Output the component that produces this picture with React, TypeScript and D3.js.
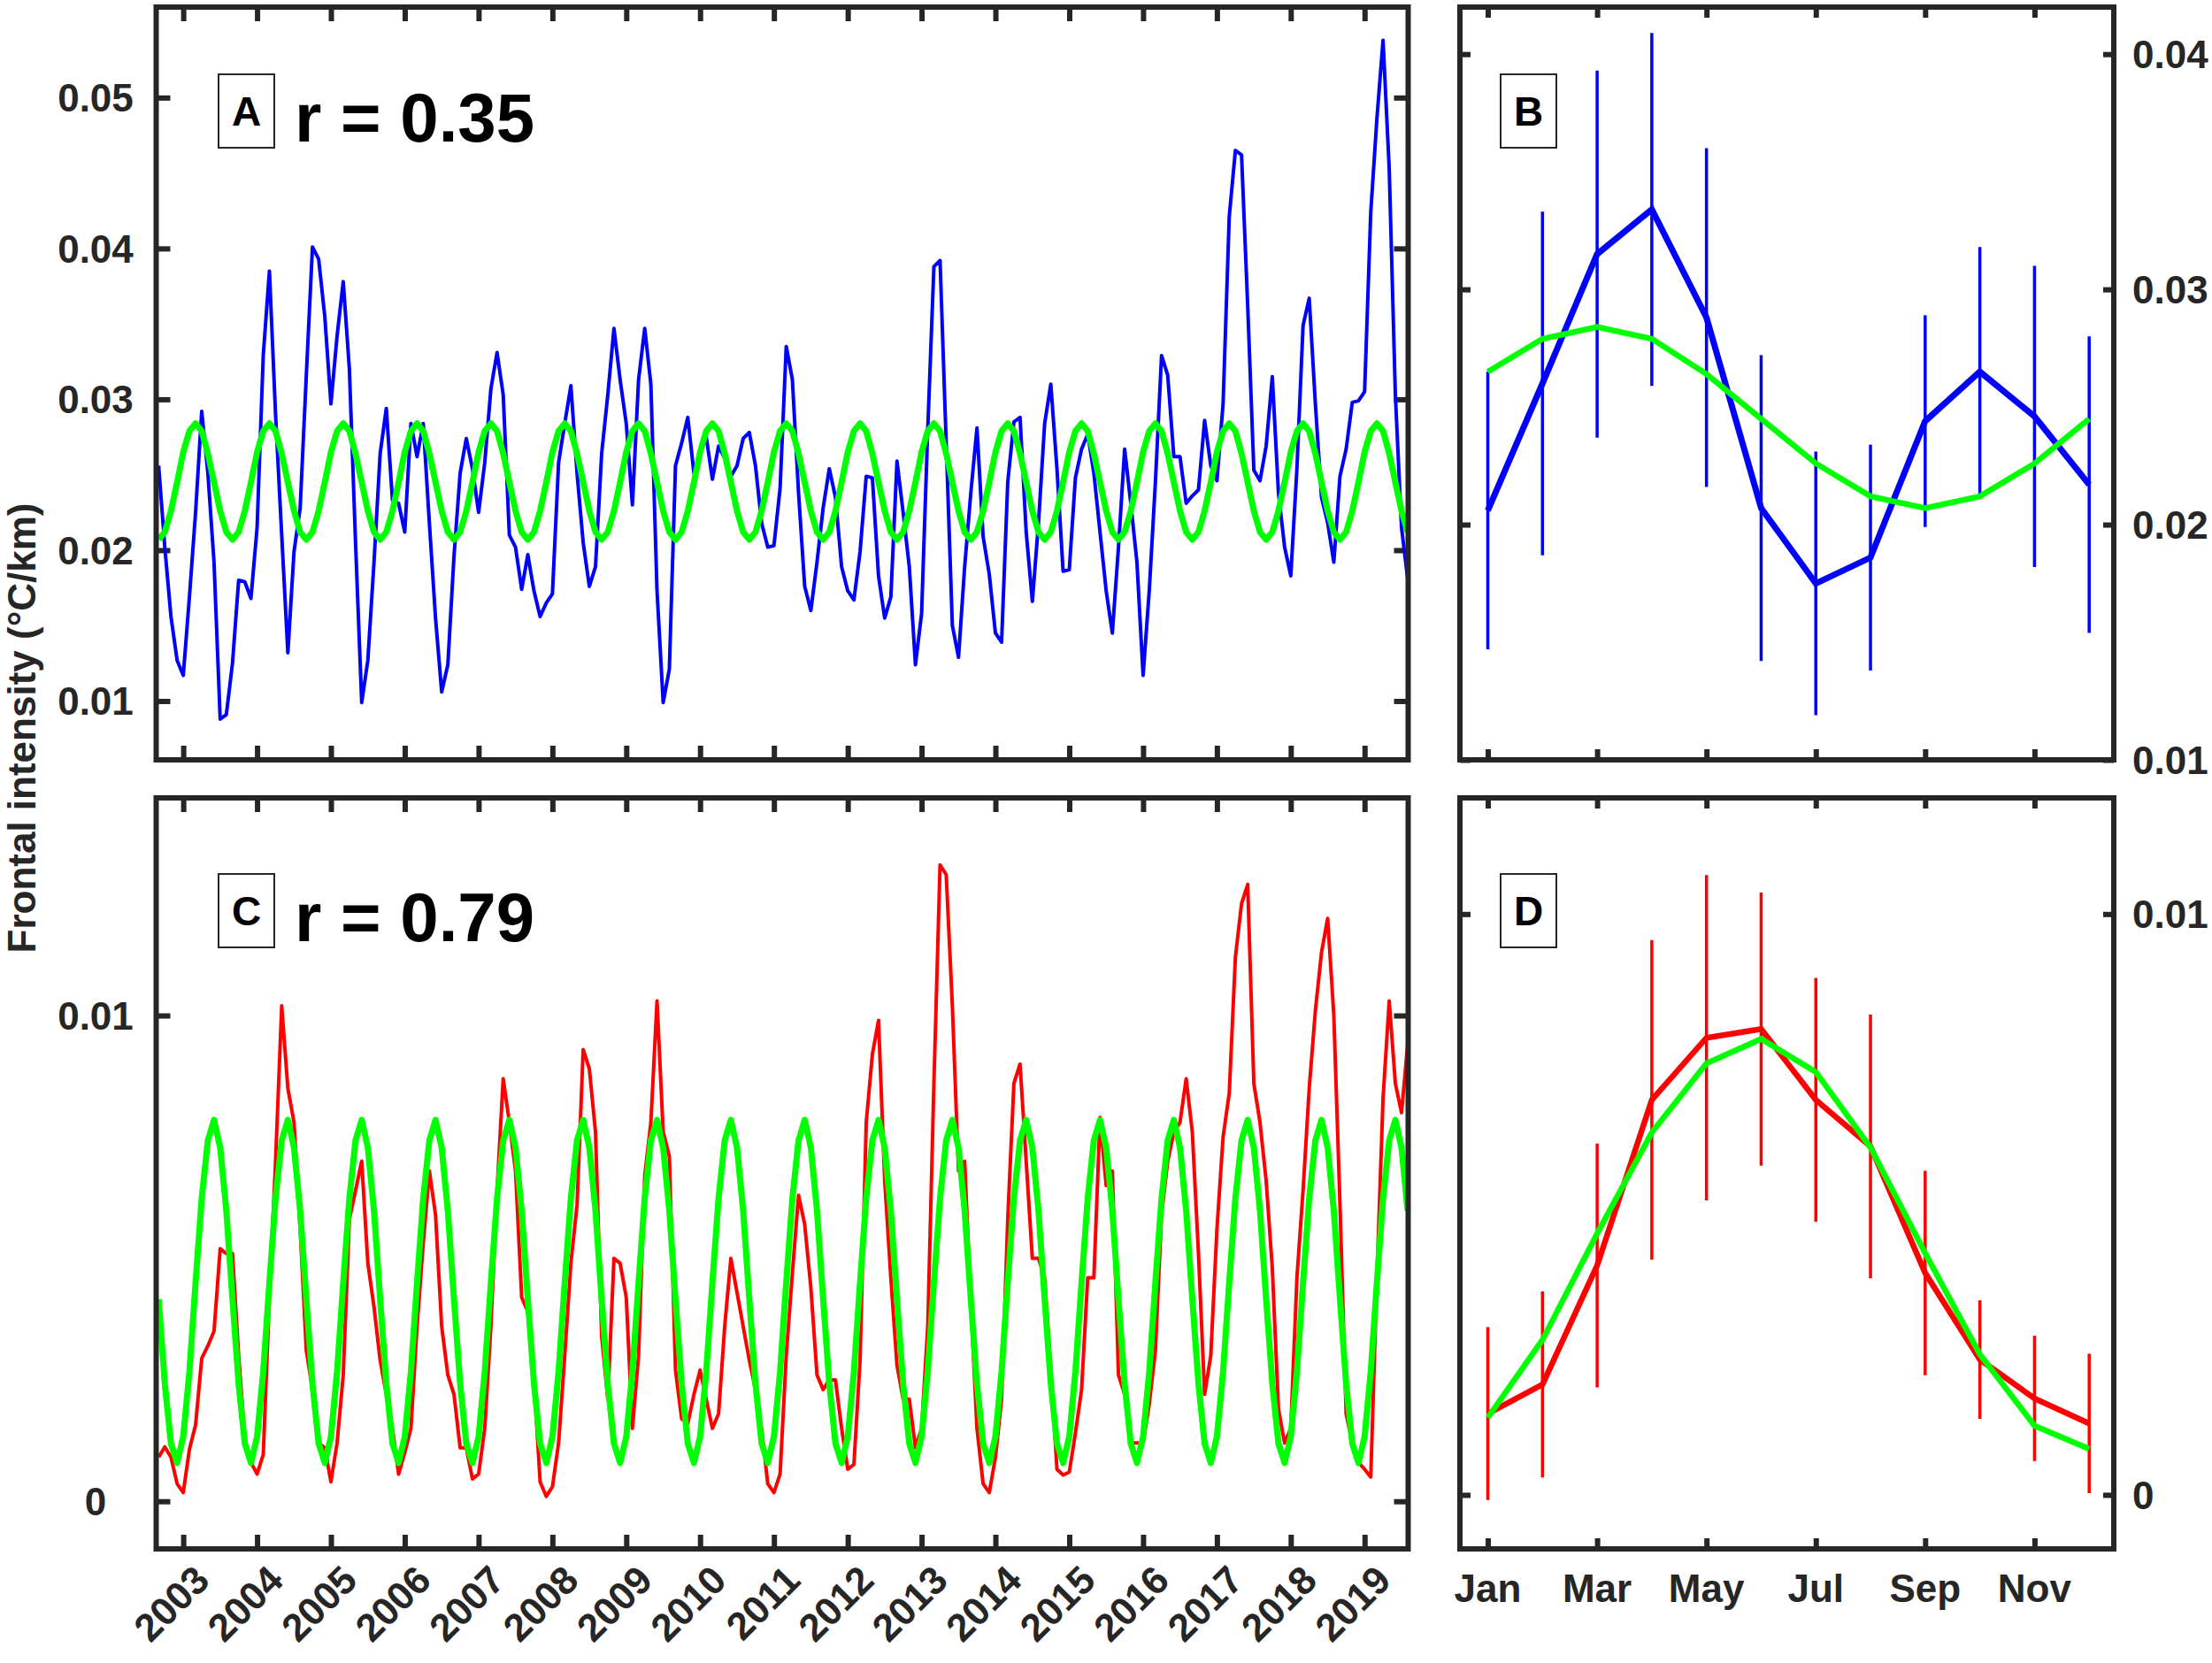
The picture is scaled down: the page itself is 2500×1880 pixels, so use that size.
import React, { useRef, useEffect } from 'react';
import * as d3 from 'd3';

// monthly series start at Sep 2002 and end at Aug 2019
const startYear = 2002;
const startMonth = 9;

const blueSeries = [
    0.0256, 0.0202, 0.0156, 0.0127,
    0.0117, 0.0169, 0.0225, 0.0292, 0.0251, 0.0192, 0.0088, 0.0091, 0.0125, 0.0180, 0.0179, 0.0168,
    0.0215, 0.0329, 0.0385, 0.0290, 0.0210, 0.0132, 0.0199, 0.0228, 0.0316, 0.0401, 0.0393, 0.0355,
    0.0297, 0.0342, 0.0378, 0.0320, 0.0205, 0.0099, 0.0127, 0.0192, 0.0264, 0.0294, 0.0233, 0.0231,
    0.0212, 0.0284, 0.0262, 0.0284, 0.0218, 0.0155, 0.0106, 0.0124, 0.0196, 0.0251, 0.0274, 0.0254,
    0.0225, 0.0258, 0.0307, 0.0331, 0.0303, 0.0210, 0.0202, 0.0174, 0.0197, 0.0173, 0.0156, 0.0165,
    0.0171, 0.0258, 0.0284, 0.0309, 0.0251, 0.0205, 0.0176, 0.0189, 0.0264, 0.0303, 0.0347, 0.0313,
    0.0284, 0.0230, 0.0313, 0.0347, 0.0310, 0.0173, 0.0099, 0.0121, 0.0256, 0.0271, 0.0288, 0.0251,
    0.0264, 0.0275, 0.0247, 0.0269, 0.0261, 0.0249, 0.0256, 0.0274, 0.0278, 0.0256, 0.0218, 0.0202,
    0.0203, 0.0241, 0.0335, 0.0313, 0.0238, 0.0176, 0.0160, 0.0192, 0.0228, 0.0254, 0.0235, 0.0189,
    0.0173, 0.0167, 0.0199, 0.0249, 0.0248, 0.0183, 0.0155, 0.0169, 0.0259, 0.0225, 0.0189, 0.0124,
    0.0158, 0.0280, 0.0388, 0.0392, 0.0271, 0.0150, 0.0129, 0.0189, 0.0238, 0.0281, 0.0209, 0.0184,
    0.0145, 0.0139, 0.0245, 0.0285, 0.0288, 0.0212, 0.0166, 0.0218, 0.0284, 0.0310, 0.0254, 0.0186,
    0.0187, 0.0248, 0.0267, 0.0277, 0.0251, 0.0212, 0.0173, 0.0145, 0.0202, 0.0267, 0.0231, 0.0192,
    0.0117, 0.0173, 0.0245, 0.0329, 0.0316, 0.0262, 0.0262, 0.0231, 0.0236, 0.0240, 0.0286, 0.0256,
    0.0246, 0.0297, 0.0421, 0.0465, 0.0462, 0.0362, 0.0253, 0.0246, 0.0269, 0.0315, 0.0238, 0.0202,
    0.0183, 0.0254, 0.0349, 0.0367, 0.0297, 0.0235, 0.0218, 0.0192, 0.0249, 0.0267, 0.0298, 0.0299,
    0.0305, 0.0424, 0.0486, 0.0538, 0.0453, 0.0303, 0.0215, 0.0181,
];

const redSeries = [
    0.00091, 0.00112, 0.00091, 0.00036,
    0.00018, 0.00107, 0.00157, 0.00294, 0.0032, 0.0035, 0.0052, 0.0051, 0.0051, 0.0030, 0.0013, 0.0008,
    0.00056, 0.00096, 0.0042, 0.0070, 0.0102, 0.0085, 0.0078, 0.0056, 0.0031, 0.0023, 0.0012, 0.0011,
    0.0004, 0.0012, 0.0026, 0.0058, 0.0064, 0.0070, 0.0049, 0.0040, 0.0029, 0.0022, 0.0015, 0.00056,
    0.0010, 0.0015, 0.0036, 0.0053, 0.0068, 0.0059, 0.0036, 0.0026, 0.0022, 0.0011, 0.0011, 0.00046,
    0.00056, 0.0015, 0.0036, 0.0064, 0.0087, 0.0078, 0.0068, 0.0042, 0.0039, 0.0025, 0.0004, 0.0001,
    0.0003, 0.0012, 0.0030, 0.0049, 0.0061, 0.0093, 0.0089, 0.0076, 0.0034, 0.0021, 0.0050, 0.0049,
    0.0042, 0.0015, 0.0030, 0.0067, 0.0078, 0.0103, 0.0076, 0.0071, 0.0027, 0.0017, 0.0016, 0.0022,
    0.0027, 0.0021, 0.0015, 0.0018, 0.0036, 0.0050, 0.0043, 0.0036, 0.0029, 0.0023, 0.0015, 0.00036,
    0.00018, 0.00056, 0.0030, 0.0047, 0.0063, 0.0057, 0.0044, 0.0026, 0.0023, 0.0025, 0.0025, 0.0015,
    0.00066, 0.00076, 0.0029, 0.0078, 0.0092, 0.0099, 0.0066, 0.0046, 0.0028, 0.0021, 0.0021, 0.0011,
    0.0015, 0.0036, 0.0086, 0.0131, 0.0129, 0.0102, 0.0068, 0.0070, 0.0041, 0.0015, 0.00036, 0.00018,
    0.0009, 0.0021, 0.0058, 0.0086, 0.0090, 0.0070, 0.0050, 0.0050, 0.0046, 0.0027, 0.00066, 0.00054,
    0.0006, 0.0014, 0.0023, 0.0046, 0.0046, 0.0079, 0.0065, 0.0068, 0.0026, 0.0022, 0.0012, 0.0012,
    0.0012, 0.0020, 0.0031, 0.0059, 0.0070, 0.0076, 0.0078, 0.0087, 0.0076, 0.0051, 0.0022, 0.0030,
    0.0056, 0.0075, 0.0084, 0.0112, 0.0123, 0.0127, 0.0086, 0.0078, 0.0066, 0.0048, 0.0019, 0.0012,
    0.0015, 0.0046, 0.0064, 0.0085, 0.0101, 0.0113, 0.0120, 0.0100, 0.0061, 0.0018, 0.0012, 0.0008,
    0.00066, 0.0005, 0.0046, 0.0083, 0.0103, 0.0086, 0.0080, 0.0094,
];

// seasonal cycle (green), Jan..Dec
const blueFit = [0.0265, 0.0279, 0.0284, 0.0279, 0.0264, 0.0245, 0.0226, 0.0212, 0.0207, 0.0212, 0.0226, 0.0245];
const redFit = [0.00133, 0.00267, 0.0045, 0.00624, 0.00743, 0.00785, 0.00728, 0.00598, 0.00416, 0.00242, 0.00119, 0.00079];

// monthly climatology with standard deviation
const blueMonthMean = [0.0206, 0.0260, 0.0315, 0.0334, 0.0288, 0.0207, 0.0175, 0.0186, 0.0244, 0.0265, 0.0246, 0.0217];
const blueMonthStd = [0.0059, 0.0073, 0.0078, 0.0075, 0.0072, 0.0065, 0.0056, 0.0048, 0.0045, 0.0053, 0.0064, 0.0063];
const redMonthMean = [0.0014, 0.0019, 0.00395, 0.0068, 0.00787, 0.00802, 0.0068, 0.0060, 0.00382, 0.00233, 0.00166, 0.00123];
const redMonthStd = [0.00149, 0.0016, 0.0021, 0.00275, 0.0028, 0.00235, 0.0021, 0.00227, 0.00176, 0.00102, 0.00108, 0.0012];

const yearTicks = [2003, 2004, 2005, 2006, 2007, 2008, 2009, 2010, 2011, 2012, 2013, 2014, 2015, 2016, 2017, 2018, 2019];
const monthTicks = [1, 3, 5, 7, 9, 11];
const monthLabels = ['Jan', 'Mar', 'May', 'Jul', 'Sep', 'Nov'];
const ticksA = [0.01, 0.02, 0.03, 0.04, 0.05];
const ticksB = [0.01, 0.02, 0.03, 0.04];
const ticksC = [0, 0.01];
const ticksD = [0, 0.01];

const FONT = '"Liberation Sans", Arial, Helvetica, sans-serif';
const AXIS = '#262626';

interface Box { x0: number; x1: number; y0: number; y1: number; }

const App: React.FC = () => {
    const svgRef = useRef<SVGSVGElement | null>(null);

    useEffect(() => {
        if (!svgRef.current) return;
        const svg = d3.select(svgRef.current);
        svg.selectAll('*').remove();

        const boxA: Box = { x0: 176.5, x1: 1591.5, y0: 8, y1: 859 };
        const boxC: Box = { x0: 176.5, x1: 1591.5, y0: 902, y1: 1751 };
        const boxB: Box = { x0: 1650, x1: 2389, y0: 8, y1: 859 };
        const boxD: Box = { x0: 1650, x1: 2389, y0: 902, y1: 1751 };

        const dateOf = (i: number) => startYear + (startMonth - 1 + i) / 12;
        const monthOf = (i: number) => (startMonth - 1 + i) % 12;

        const xTime = d3.scaleLinear().domain([2002.633, 2019.59]).range([boxA.x0, boxA.x1]);
        const xMonth = d3.scaleLinear().domain([0.49, 12.45]).range([boxB.x0, boxB.x1]);
        const yA = d3.scaleLinear().domain([0.0061, 0.056]).range([boxA.y1, boxA.y0]);
        const yB = d3.scaleLinear().domain([0.01, 0.042]).range([boxB.y1, boxB.y0]);
        const yC = d3.scaleLinear().domain([-0.00098, 0.01448]).range([boxC.y1, boxC.y0]);
        const yD = d3.scaleLinear().domain([-0.00093, 0.012]).range([boxD.y1, boxD.y0]);

        const ticks = (box: Box, x: d3.ScaleLinear<number, number>, y: d3.ScaleLinear<number, number>,
            xt: number[], yt: number[], len: number) => {
            const g = svg.append('g');
            const none = () => '';
            g.append('g').attr('transform', `translate(${box.x0},0)`)
                .call(d3.axisLeft(y).tickValues(yt).tickSize(-len).tickSizeOuter(0).tickFormat(none));
            g.append('g').attr('transform', `translate(${box.x1},0)`)
                .call(d3.axisRight(y).tickValues(yt).tickSize(-len).tickSizeOuter(0).tickFormat(none));
            g.append('g').attr('transform', `translate(0,${box.y0})`)
                .call(d3.axisTop(x).tickValues(xt).tickSize(-len).tickSizeOuter(0).tickFormat(none));
            g.append('g').attr('transform', `translate(0,${box.y1})`)
                .call(d3.axisBottom(x).tickValues(xt).tickSize(-len).tickSizeOuter(0).tickFormat(none));
            g.selectAll('.domain').remove();
            g.selectAll('.tick line').attr('stroke', AXIS).attr('stroke-width', 6);
        };

        const frame = (box: Box) => {
            svg.append('rect')
                .attr('x', box.x0).attr('y', box.y0)
                .attr('width', box.x1 - box.x0).attr('height', box.y1 - box.y0)
                .attr('fill', 'none').attr('stroke', AXIS).attr('stroke-width', 6);
        };

        const tag = (x: number, y: number, letter: string) => {
            svg.append('rect').attr('x', x).attr('y', y).attr('width', 63).attr('height', 83)
                .attr('fill', 'white').attr('stroke', AXIS).attr('stroke-width', 2);
            svg.append('text').attr('x', x + 31.5).attr('y', y + 41.5 + 16.5)
                .attr('text-anchor', 'middle').attr('font-family', FONT).attr('font-weight', 'bold')
                .attr('font-size', 46).attr('fill', 'black').text(letter);
        };

        const line = (y: d3.ScaleLinear<number, number>) => d3.line<number>()
            .x((_, i) => xTime(dateOf(i)))
            .y(d => y(d));

        const monthLine = (y: d3.ScaleLinear<number, number>) => d3.line<number>()
            .x((_, i) => xMonth(i + 1))
            .y(d => y(d));

        // panel A
        ticks(boxA, xTime, yA, yearTicks, ticksA, 16);
        svg.append('path').datum(blueSeries)
            .attr('fill', 'none').attr('stroke', '#0000ff').attr('stroke-width', 4)
            .attr('stroke-linejoin', 'round').attr('d', line(yA));
        svg.append('path').datum(blueSeries.map((_, i) => blueFit[monthOf(i)]))
            .attr('fill', 'none').attr('stroke', '#00ff00').attr('stroke-width', 7)
            .attr('stroke-linejoin', 'round').attr('d', line(yA));
        frame(boxA);

        // panel C
        ticks(boxC, xTime, yC, yearTicks, ticksC, 16);
        svg.append('path').datum(redSeries)
            .attr('fill', 'none').attr('stroke', '#ff0000').attr('stroke-width', 4)
            .attr('stroke-linejoin', 'round').attr('d', line(yC));
        svg.append('path').datum(redSeries.map((_, i) => redFit[monthOf(i)]))
            .attr('fill', 'none').attr('stroke', '#00ff00').attr('stroke-width', 7)
            .attr('stroke-linejoin', 'round').attr('d', line(yC));
        frame(boxC);

        // panel B
        ticks(boxB, xMonth, yB, monthTicks, ticksB, 12);
        blueMonthMean.forEach((m, i) => {
            svg.append('line')
                .attr('x1', xMonth(i + 1)).attr('x2', xMonth(i + 1))
                .attr('y1', yB(m - blueMonthStd[i])).attr('y2', yB(m + blueMonthStd[i]))
                .attr('stroke', '#0000ff').attr('stroke-width', 3.5);
        });
        svg.append('path').datum(blueMonthMean)
            .attr('fill', 'none').attr('stroke', '#0000ff').attr('stroke-width', 7)
            .attr('d', monthLine(yB));
        svg.append('path').datum(blueFit)
            .attr('fill', 'none').attr('stroke', '#00ff00').attr('stroke-width', 6.5)
            .attr('d', monthLine(yB));
        frame(boxB);

        // panel D
        ticks(boxD, xMonth, yD, monthTicks, ticksD, 12);
        redMonthMean.forEach((m, i) => {
            svg.append('line')
                .attr('x1', xMonth(i + 1)).attr('x2', xMonth(i + 1))
                .attr('y1', yD(m - redMonthStd[i])).attr('y2', yD(m + redMonthStd[i]))
                .attr('stroke', '#ff0000').attr('stroke-width', 3.5);
        });
        svg.append('path').datum(redMonthMean)
            .attr('fill', 'none').attr('stroke', '#ff0000').attr('stroke-width', 6.5)
            .attr('d', monthLine(yD));
        svg.append('path').datum(redFit)
            .attr('fill', 'none').attr('stroke', '#00ff00').attr('stroke-width', 6.5)
            .attr('d', monthLine(yD));
        frame(boxD);

        // tick labels
        const label = (x: number, y: number, s: string, anchor: string) => svg.append('text')
            .attr('x', x).attr('y', y).attr('text-anchor', anchor)
            .attr('font-family', FONT).attr('font-weight', 'bold').attr('font-size', 44)
            .attr('fill', AXIS).text(s);

        ticksA.forEach(t => label(108, yA(t) + 16, String(t), 'middle'));
        ticksC.forEach(t => label(108, yC(t) + 16, String(t), 'middle'));
        ticksB.forEach(t => label(2410, yB(t) + 16, String(t), 'start'));
        ticksD.forEach(t => label(2410, yD(t) + 16, String(t), 'start'));

        yearTicks.forEach(t => {
            const px = xTime(t) + 32;
            const py = 1789;
            label(px, py, String(t), 'end').attr('transform', `rotate(-45,${px},${py})`);
        });
        monthTicks.forEach((t, i) => label(xMonth(t), 1811, monthLabels[i], 'middle'));

        // y-axis title
        svg.append('text')
            .attr('transform', 'translate(40,823) rotate(-90)')
            .attr('text-anchor', 'middle').attr('font-family', FONT).attr('font-weight', 'bold')
            .attr('font-size', 44).attr('fill', AXIS)
            .text('Frontal intensity (°C/km)');

        // panel tags and correlations
        tag(247, 84, 'A');
        tag(1696, 84, 'B');
        tag(247, 988, 'C');
        tag(1696, 988, 'D');
        svg.append('text').attr('x', 333).attr('y', 160)
            .attr('font-family', FONT).attr('font-weight', 'bold').attr('font-size', 78)
            .attr('fill', 'black').text('r = 0.35');
        svg.append('text').attr('x', 333).attr('y', 1064)
            .attr('font-family', FONT).attr('font-weight', 'bold').attr('font-size', 78)
            .attr('fill', 'black').text('r = 0.79');
    }, []);

    return (
        <svg ref={svgRef} width={2500} height={1880}
            style={{ position: 'absolute', left: 0, top: 0, background: 'white' }} />
    );
};

export default App;
